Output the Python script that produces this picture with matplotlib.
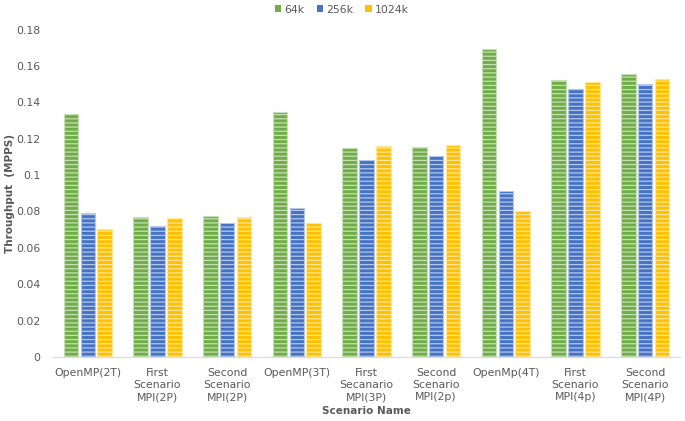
import numpy as np
import matplotlib.pyplot as plt
from matplotlib.patches import Patch

# 数据
categories = ['OpenMP(2T)', 'First\nScenario\nMPI(2P)', 'Second\nScenario\nMPI(2P)',
              'OpenMP(3T)', 'First\nSecanario\nMPI(3P)', 'Second\nScenario\nMPI(2p)',
              'OpenMp(4T)', 'First\nScenario\nMPI(4p)', 'Second\nScenario\nMPI(4P)']
series_names = ['64k', '256k', '1024k']
vals_64k = [0.1336, 0.0771, 0.0777, 0.1345, 0.1151, 0.1156, 0.1691, 0.1523, 0.1556]
vals_256k = [0.0793, 0.0722, 0.0735, 0.0817, 0.1081, 0.1105, 0.0915, 0.1472, 0.1499]
vals_1024k = [0.0704, 0.0762, 0.0770, 0.0738, 0.1162, 0.1165, 0.0800, 0.1514, 0.1527]
yticks = [0, 0.02, 0.04, 0.06, 0.08, 0.1, 0.12, 0.14, 0.16, 0.18]
ytick_labels = ['0', '0.02', '0.04', '0.06', '0.08', '0.1', '0.12', '0.14', '0.16', '0.18']

colors = ['#70AD47', '#4472C4', '#FFC000']
light = ['#C5E0B4', '#B4C7E7', '#FFE699']
txt = '#595959'

plt.rcParams['font.family'] = ['DejaVu Sans']
plt.rcParams['hatch.linewidth'] = 0.9

fig = plt.figure(figsize=(6.85, 4.21), dpi=100)
ax = fig.add_axes([53 / 685, 1 - 357 / 421, 627 / 685, (357 - 29.5) / 421])

x = np.arange(len(categories))
w = 0.21
step = 0.24
for i, (vals, c, lc) in enumerate(zip([vals_64k, vals_256k, vals_1024k], colors, light)):
    ax.bar(x + (i - 1) * step, vals, width=w, color=c, edgecolor=lc,
           linewidth=0.8, hatch='----')

ax.set_xlim(-0.5, len(categories) - 0.5)
ax.set_ylim(0, 0.18)
ax.set_yticks(yticks)
ax.set_yticklabels(ytick_labels)
ax.set_xticks(x)
ax.set_xticklabels(categories, linespacing=1.25)
ax.tick_params(axis='both', length=0, colors=txt, labelsize=7.8)
ax.tick_params(axis='x', pad=8)
ax.tick_params(axis='y', pad=9)
for s in ['top', 'right', 'left']:
    ax.spines[s].set_visible(False)
ax.spines['bottom'].set_color('#D9D9D9')

ax.set_xlabel('Scenario Name', fontsize=7.5, fontweight='bold', color=txt)
ax.xaxis.set_label_coords(0.5, -(411 - 357) / 327.5)
ax.xaxis.label.set_va('center')
ax.set_ylabel('Throughput  (MPPS)', fontsize=7.5, fontweight='bold', color=txt)
ax.yaxis.set_label_coords(-(53 - 10) / 627, 0.5)
ax.yaxis.label.set_va('center')

handles = [Patch(facecolor=c) for c in colors]
fig.legend(handles, series_names, loc='upper center', bbox_to_anchor=(342 / 685, 1.012),
           ncol=3, frameon=False, fontsize=7.8, labelcolor=txt,
           handlelength=0.6, handleheight=0.6, handletextpad=0.3, columnspacing=1.1)

fig.savefig('out.png', dpi=100)
